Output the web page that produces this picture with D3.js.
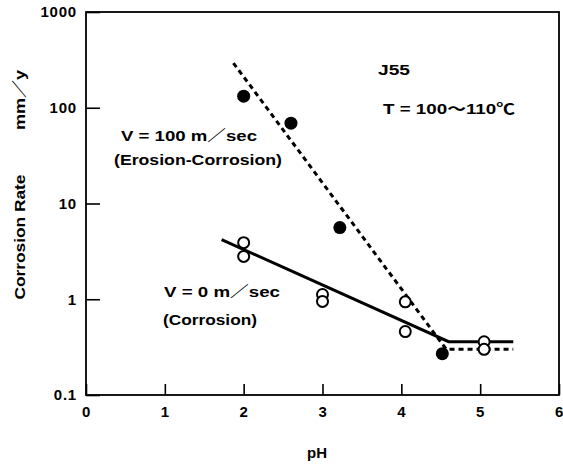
<!DOCTYPE html>
<html>
<head>
<meta charset="utf-8">
<script src="https://cdn.jsdelivr.net/npm/d3@7"></script>
<style>
  body { margin: 0; background: #fff; }
  text { font-family: "Liberation Sans", "Noto Sans CJK JP", Arial, sans-serif; fill: #000; }
</style>
</head>
<body>
<div id="wrapper"></div>
<script>
(function () {
  "use strict";

  // DATA
  const erosionPH = [2.0, 2.6, 3.22, 4.52]
  const erosionRate = [132, 69, 5.6, 0.27]
  const corrosionPH = [2.0, 2.0, 3.0, 3.0, 4.05, 4.05, 5.05, 5.05]
  const corrosionRate = [3.9, 2.8, 1.12, 0.95, 0.94, 0.46, 0.36, 0.30]
  const erosionFitPH = [1.87, 4.57, 5.42]
  const erosionFitRate = [293, 0.30, 0.30]
  const corrosionFitPH = [1.72, 4.6, 5.42]
  const corrosionFitRate = [4.2, 0.36, 0.36]
  const xTicks = [0, 1, 2, 3, 4, 5, 6]
  const yTicks = [0.1, 1, 10, 100, 1000]

  // DIMENSIONS
  let dimensions = {
    width: 563,
    height: 465,
    margin: { top: 12, right: 4, bottom: 70, left: 86 }
  }
  dimensions.boundedWidth = dimensions.width - dimensions.margin.left - dimensions.margin.right
  dimensions.boundedHeight = dimensions.height - dimensions.margin.top - dimensions.margin.bottom

  const wrapper = d3.select("#wrapper").append("svg")
    .attr("width", dimensions.width)
    .attr("height", dimensions.height)

  const bounds = wrapper.append("g")
    .attr("transform", `translate(${dimensions.margin.left},${dimensions.margin.top})`)

  // SCALES
  const xScale = d3.scaleLinear()
    .domain([0, 6])
    .range([0, dimensions.boundedWidth])

  const yScale = d3.scaleLog()
    .domain([0.1, 1000])
    .range([dimensions.boundedHeight, 0])

  // AXES (ticks point inward)
  const xAxis = bounds.append("g")
    .attr("transform", `translate(0,${dimensions.boundedHeight})`)
    .call(d3.axisBottom(xScale).tickValues(xTicks).tickSize(-11).tickPadding(11).tickFormat(d3.format("d")))

  const yAxis = bounds.append("g")
    .call(d3.axisLeft(yScale).tickValues(yTicks).tickSize(-14).tickPadding(9).tickFormat(d => String(d)))

  ;[xAxis, yAxis].forEach(ax => {
    ax.select(".domain").remove()
    ax.selectAll(".tick line").attr("stroke", "#000").attr("stroke-width", 1.6)
    ax.selectAll(".tick text")
      .attr("font-size", 15)
      .attr("font-weight", "bold")
      .attr("letter-spacing", 0.8)
      .attr("font-family", "Liberation Sans, Arial, sans-serif")
  })

  // frame
  bounds.append("rect")
    .attr("width", dimensions.boundedWidth)
    .attr("height", dimensions.boundedHeight)
    .attr("fill", "none")
    .attr("stroke", "#000")
    .attr("stroke-width", 1.8)

  // LABELS
  wrapper.append("text")
    .attr("x", 317)
    .attr("y", 458)
    .attr("text-anchor", "middle")
    .attr("font-size", 15)
    .attr("font-weight", "bold")
    .text("pH")

  const yLabels = [
    { t: "Corrosion Rate", c: 237, len: 125 },
    { t: "mm／y", c: 100, len: 60 }
  ]
  wrapper.selectAll(".ylab").data(yLabels).enter().append("text")
    .attr("class", "ylab")
    .attr("transform", d => `translate(25,${d.c}) rotate(-90)`)
    .attr("text-anchor", "middle")
    .attr("font-size", 15)
    .attr("font-weight", "bold")
    .attr("textLength", d => d.len)
    .attr("lengthAdjust", "spacingAndGlyphs")
    .text(d => d.t)

  const notes = [
    { t: "J55", x: 378, y: 75, len: 32 },
    { t: "T = 100～110℃", x: 383, y: 114, len: 132 },
    { t: "V = 100  m／sec", x: 121, y: 141, len: 136 },
    { t: "(Erosion-Corrosion)", x: 114, y: 165, len: 168 },
    { t: "V = 0  m／sec", x: 164, y: 297, len: 116 },
    { t: "(Corrosion)", x: 163, y: 325, len: 94 }
  ]
  wrapper.selectAll(".note").data(notes).enter().append("text")
    .attr("class", "note")
    .attr("x", d => d.x)
    .attr("y", d => d.y)
    .attr("font-size", 15)
    .attr("font-weight", "bold")
    .attr("textLength", d => d.len)
    .attr("lengthAdjust", "spacingAndGlyphs")
    .text(d => d.t)

  // LINES
  const line = d3.line()
    .x(d => xScale(d[0]))
    .y(d => yScale(d[1]))

  bounds.append("path")
    .datum(d3.zip(erosionFitPH, erosionFitRate))
    .attr("d", line)
    .attr("fill", "none")
    .attr("stroke", "#000")
    .attr("stroke-width", 3)
    .attr("stroke-dasharray", "5,4")

  bounds.append("path")
    .datum(d3.zip(corrosionFitPH, corrosionFitRate))
    .attr("d", line)
    .attr("fill", "none")
    .attr("stroke", "#000")
    .attr("stroke-width", 3)

  // POINTS
  bounds.selectAll(".open").data(d3.zip(corrosionPH, corrosionRate)).enter()
    .append("circle")
    .attr("class", "open")
    .attr("cx", d => xScale(d[0]))
    .attr("cy", d => yScale(d[1]))
    .attr("r", 5.5)
    .attr("fill", "#fff")
    .attr("stroke", "#000")
    .attr("stroke-width", 2)

  bounds.selectAll(".filled").data(d3.zip(erosionPH, erosionRate)).enter()
    .append("circle")
    .attr("class", "filled")
    .attr("cx", d => xScale(d[0]))
    .attr("cy", d => yScale(d[1]))
    .attr("r", 6.5)
    .attr("fill", "#000")
})();
</script>
</body>
</html>
